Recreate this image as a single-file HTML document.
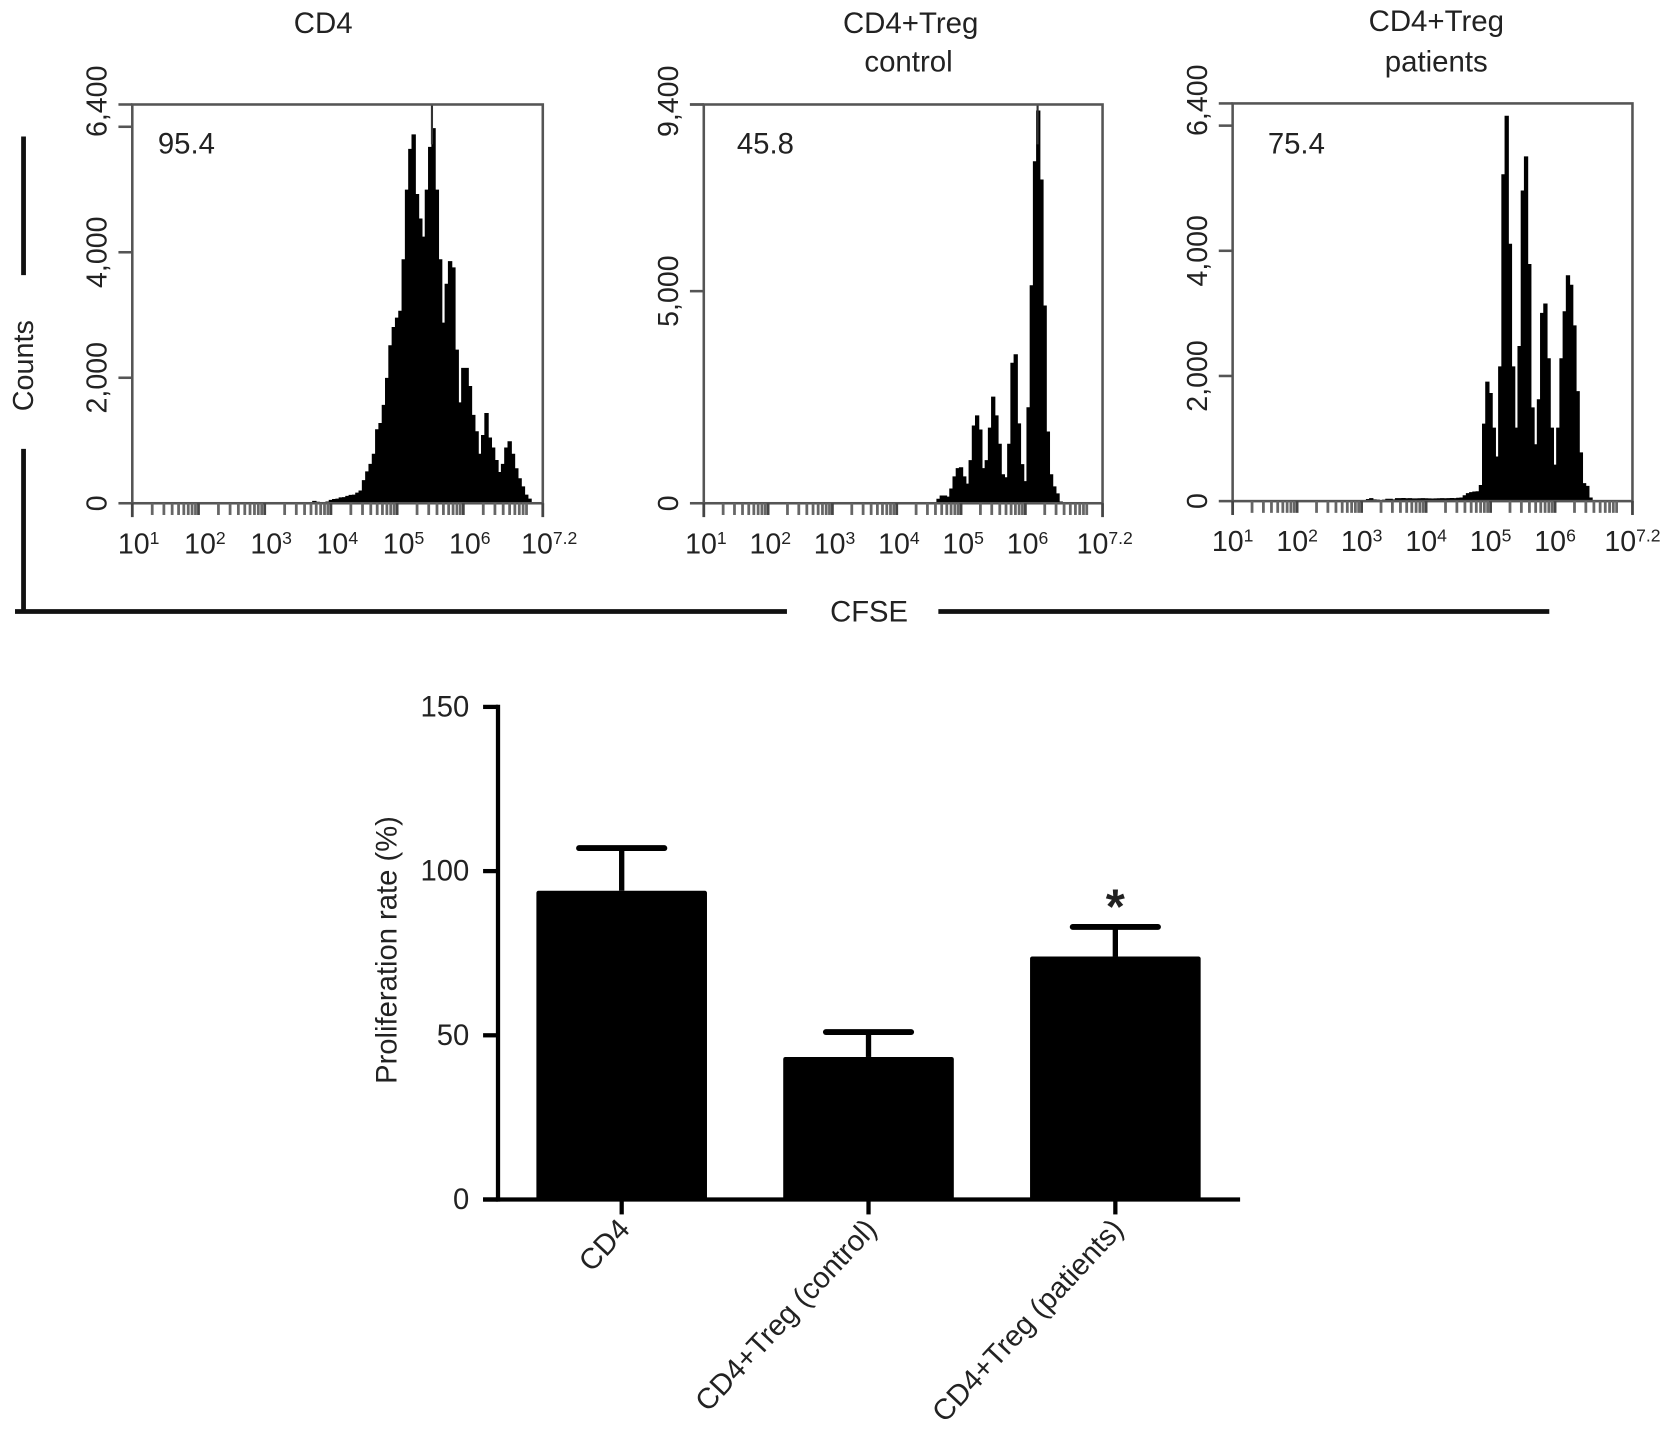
<!DOCTYPE html>
<html lang="en">
<head>
<meta charset="utf-8">
<title>CFSE proliferation</title>
<style>
html,body{margin:0;padding:0;background:#fff;}
svg{display:block;}
text{font-family:"Liberation Sans",sans-serif;fill:#222;}
</style>
</head>
<body>
<svg id="fig" xmlns="http://www.w3.org/2000/svg" width="1672" height="1433" viewBox="0 0 1568 1344">
  <rect x="0" y="0" width="1568" height="1344" fill="#fff"/>

  <text x="303" y="31" font-size="27.6" text-anchor="middle">CD4</text>
  <text x="854" y="31" font-size="27.6" text-anchor="middle">CD4+Treg</text>
  <text x="852" y="67" font-size="27.6" text-anchor="middle">control</text>
  <text x="1347" y="29" font-size="27.6" text-anchor="middle">CD4+Treg</text>
  <text x="1347" y="67" font-size="27.6" text-anchor="middle">patients</text>

  <line x1="22" y1="128" x2="22" y2="258" stroke="#111" stroke-width="4.5"/>
  <line x1="22" y1="421" x2="22" y2="573" stroke="#111" stroke-width="4.5"/>
  <line x1="14" y1="573.5" x2="738" y2="573.5" stroke="#111" stroke-width="4.5"/>
  <line x1="880" y1="573.5" x2="1453" y2="573.5" stroke="#111" stroke-width="4.5"/>
  <text x="0" y="0" font-size="27" text-anchor="middle" transform="translate(31 343) rotate(-90)">Counts</text>
  <text x="815" y="583" font-size="27.4" text-anchor="middle">CFSE</text>

  <g id="histograms"></g>

  <g id="bars"></g>
  <text x="0" y="0" font-size="27.4" text-anchor="middle" transform="translate(372 891) rotate(-90)">Proliferation rate (%)</text>
  <text x="1046" y="866" font-size="46" font-weight="bold" text-anchor="middle" fill="#111">*</text>
</svg>

<script>
/* ---------- Histogram data: counts per 0.05-decade CFSE bin ---------- */
const binWidthLog = 0.05;

const cd4StartLog = 3.725;
const cd4Counts = [30,15,5,10,20,45,60,65,85,90,110,125,130,160,195,360,500,620,780,1170,1270,1560,1990,2510,2800,2950,3060,3880,4990,5640,5870,4920,4530,4240,4990,5670,5970,4990,3880,2870,3490,3850,3750,2440,1600,2150,2150,1860,1400,1140,780,1080,1430,1040,880,680,490,620,880,980,780,550,390,260,130,65,5];

const controlStartLog = 4.625;
const controlCounts = [95,170,170,145,335,620,815,835,620,450,1005,1820,2060,1725,815,1005,1770,2500,2060,1390,670,600,1390,3300,3500,1870,910,510,2250,5125,8050,9245,7620,4650,1680,670,385,220,30];

const patientStartLog = 3.075;
const patientCounts = [25,40,20,15,5,15,30,30,20,40,40,42,38,40,36,35,38,40,38,35,34,36,38,40,38,40,42,40,45,50,85,120,135,145,150,250,1230,1900,1720,1165,705,2145,5215,6150,4105,2145,1165,2470,4955,5500,3780,1490,900,1620,3000,3150,2275,1165,575,1165,2275,3025,3600,3450,2800,1750,770,280,235,50];

/* narrow clipped peak in each histogram: [log10 CFSE, count] */
const cd4Peak = [5.526, 6355];
const controlPeak = [6.19, 9400];

/* axis ticks */
const cd4YTicks = [0,2000,4000,6000];
const cd4YLabels = ["0","2,000","4,000","6,400"];
const cd4YLabelValues = [0,2000,4000,6400];
const controlYTicks = [0,5000,9400];
const controlYLabels = ["0","5,000","9,400"];
const controlYLabelValues = [0,5000,9400];
const patientYTicks = [0,2000,4000,6000];
const patientYLabels = ["0","2,000","4,000","6,400"];
const patientYLabelValues = [0,2000,4000,6400];
const decadeExponents = ["1","2","3","4","5","6","7.2"];
const decadeLogs = [1,2,3,4,5,6,7.2];
const minorMultipliers = [2,3,4,5,6,7,8,9];

/* ---------- Bar chart data ---------- */
const barCategories = ["CD4","CD4+Treg (control)","CD4+Treg (patients)"];
const barMeans = [94,43.4,74];
const barUpper = [107,51,83];
const barYTicks = [0,50,100,150];

const NS = "http://www.w3.org/2000/svg";
function svgEl(tag, parent, attrs){
  const e = document.createElementNS(NS, tag);
  for (const k in attrs) e.setAttribute(k, attrs[k]);
  parent.appendChild(e);
  return e;
}

function drawPanel(host, p){
  const g = svgEl("g", host, {});
  
  
  const xOf = v => p.left + (v - 1) * (p.right - p.left) / 6.2;
  const yOf = v => Math.max(p.top, p.bottom - v * (p.bottom - p.top) / p.yMax);

  /* filled histogram */
  let d = "M" + xOf(p.startLog).toFixed(2) + " " + p.bottom;
  p.counts.forEach((c, i) => {
    const a = xOf(p.startLog + i * binWidthLog);
    const b = xOf(p.startLog + (i + 1) * binWidthLog);
    d += "L" + a.toFixed(2) + " " + yOf(c).toFixed(2) + "L" + b.toFixed(2) + " " + yOf(c).toFixed(2);
  });
  d += "L" + xOf(p.startLog + p.counts.length * binWidthLog).toFixed(2) + " " + p.bottom + "Z";
  const hist = svgEl("path", g, {d: d, fill: "#000", stroke: "#000", "stroke-width": 1});
  
  

  /* clipped peak */
  if (p.peak){
    const peak = svgEl("line", g, {x1: xOf(p.peak[0]), x2: xOf(p.peak[0]), y1: yOf(p.peak[1]), y2: yOf(p.peak[1] * 0.9), stroke: "#333", "stroke-width": 2});
    
    
  }

  /* plot frame */
  const frame = svgEl("rect", g, {x: p.left, y: p.top, width: p.right - p.left, height: p.bottom - p.top, fill: "none", stroke: "#555", "stroke-width": 2.4});
  
  

  /* y ticks */
  p.yTicks.forEach(v => {
    const t = svgEl("line", g, {x1: p.left - 13, x2: p.left, y1: yOf(v), y2: yOf(v), stroke: "#555", "stroke-width": 2.4});
    
    
  });
  const topTick = svgEl("line", g, {x1: p.left - 13, x2: p.left, y1: p.top, y2: p.top, stroke: "#555", "stroke-width": 2.4});
  
  

  p.yLabels.forEach((s, i) => {
    const atTop = p.yLabelValues[i] >= p.yMax;
    const ty = yOf(p.yLabelValues[i]) - (atTop ? 3 : 0);
    const t = svgEl("text", g, {"font-size": 26.8, "text-anchor": "middle", transform: "translate(" + (p.left - 24) + " " + ty + ") rotate(-90)", x: 0, y: 0});
    t.textContent = s;
    
    
  });

  /* x ticks */
  for (let dec = 1; dec < 8; dec++){
    minorMultipliers.forEach(m => {
      const lv = dec + Math.log10(m);
      if (lv >= 7.2) return;
      const t = svgEl("line", g, {x1: xOf(lv), x2: xOf(lv), y1: p.bottom, y2: p.bottom + 11, stroke: "#666", "stroke-width": 2.6});
      
      
    });
  }
  decadeLogs.forEach((lv, i) => {
    const isEnd = lv === 1 || lv === 7.2;
    const t = svgEl("line", g, {x1: xOf(lv), x2: xOf(lv), y1: p.bottom, y2: p.bottom + (isEnd ? 13 : 11), stroke: "#444", "stroke-width": 2.6});
    
    
    const label = svgEl("text", g, {x: xOf(lv) + p.labelOffset, y: p.bottom + 47, "font-size": 26.8, "text-anchor": "middle"});
    
    
    const base = svgEl("tspan", label, {});
    base.textContent = "10";
    const sup = svgEl("tspan", label, {dy: -9, "font-size": 16.5});
    sup.textContent = decadeExponents[i];
  });

  /* percentage annotation */
  const pct = svgEl("text", g, {x: p.pctX, y: 144, "font-size": 27.5});
  pct.textContent = p.pct;
  
  
}

const histHost = document.getElementById("histograms");
drawPanel(histHost, {left:124,right:509,top:98,bottom:472,labelOffset:6,yMax:6355,startLog:cd4StartLog,counts:cd4Counts,peak:cd4Peak,yTicks:cd4YTicks,yLabels:cd4YLabels,yLabelValues:cd4YLabelValues,pct:"95.4",pctX:148});
drawPanel(histHost, {left:660,right:1034,top:98,bottom:472,labelOffset:2,yMax:9400,startLog:controlStartLog,counts:controlCounts,peak:controlPeak,yTicks:controlYTicks,yLabels:controlYLabels,yLabelValues:controlYLabelValues,pct:"45.8",pctX:691});
drawPanel(histHost, {left:1156,right:1531,top:97,bottom:470,labelOffset:0,yMax:6355,startLog:patientStartLog,counts:patientCounts,peak:null,yTicks:patientYTicks,yLabels:patientYLabels,yLabelValues:patientYLabelValues,pct:"75.4",pctX:1189});

/* ---------- Bar chart ---------- */
(function(){
  const g = document.getElementById("bars");
  const y0 = 1125, unit = (1125 - 663) / 150;
  const yOf = v => y0 - v * unit;
  const firstCenter = 583, step = 231.5, barW = 160, capW = 80;
  const xOf = i => firstCenter + i * step;

  barCategories.forEach((name, i) => {
    const cx = xOf(i);
    const stem = svgEl("line", g, {x1: cx, x2: cx, y1: yOf(barUpper[i]), y2: yOf(barMeans[i]), stroke: "#000", "stroke-width": 5});
    
    
    const cap = svgEl("line", g, {x1: cx - capW / 2, x2: cx + capW / 2, y1: yOf(barUpper[i]), y2: yOf(barUpper[i]), stroke: "#000", "stroke-width": 5.5, "stroke-linecap": "round"});
    
    
    const bar = svgEl("rect", g, {x: cx - barW / 2, y: yOf(barMeans[i]), width: barW, height: y0 - yOf(barMeans[i]), fill: "#000", rx: 2});
    
    
    const tick = svgEl("line", g, {x1: cx, x2: cx, y1: y0, y2: y0 + 14, stroke: "#000", "stroke-width": 4});
    
    
    const label = svgEl("text", g, {x: 0, y: 0, "font-size": 27.4, "text-anchor": "end", transform: "translate(" + (cx + 9) + " " + (y0 + 29) + ") rotate(-47)"});
    label.textContent = name;
    
    
  });

  const yAxis = svgEl("line", g, {x1: 467, x2: 467, y1: yOf(150) - 2, y2: y0 + 2, stroke: "#000", "stroke-width": 4});
  
  
  const xAxis = svgEl("line", g, {x1: 453, x2: 1163, y1: y0, y2: y0, stroke: "#000", "stroke-width": 4});
  
  

  barYTicks.forEach(v => {
    const t = svgEl("line", g, {x1: 453, x2: 467, y1: yOf(v), y2: yOf(v), stroke: "#000", "stroke-width": 4});
    
    
    const label = svgEl("text", g, {x: 440, y: yOf(v) + 9, "font-size": 27.4, "text-anchor": "end"});
    label.textContent = String(v);
    
    
  });
})();
</script>
</body>
</html>
